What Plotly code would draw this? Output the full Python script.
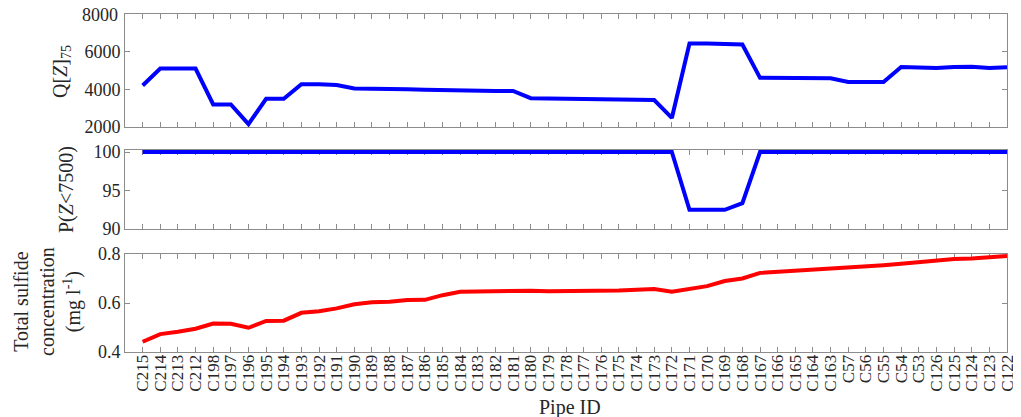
import plotly.graph_objects as go

pipes = ["C215", "C214", "C213", "C212", "C198", "C197", "C196", "C195", "C194", "C193",
         "C192", "C191", "C190", "C189", "C188", "C187", "C186", "C185", "C184", "C183",
         "C182", "C181", "C180", "C179", "C178", "C177", "C176", "C175", "C174", "C173",
         "C172", "C171", "C170", "C169", "C168", "C167", "C166", "C165", "C164", "C163",
         "C57", "C56", "C55", "C54", "C53", "C126", "C125", "C124", "C123", "C122"]

q75 = [4200, 5100, 5100, 5100, 3200, 3200, 2150, 3500, 3500, 4270,
       4270, 4230, 4050, 4050, 4000, 4000, 3980, 3950, 3920, 3920,
       3910, 3910, 3530, 3510, 3500, 3500, 3480, 3470, 3450, 3430,
       2480, 6430, 6430, 6400, 6380, 4610, 4610, 4600, 4600, 4590,
       4390, 4390, 4390, 5190, 5180, 5130, 5180, 5200, 5130, 5170]

p7500 = [100] * 31 + [92.5, 92.5, 92.5, 93.35] + [100] * 15

sulfide = [0.442, 0.473, 0.483, 0.495, 0.516, 0.515, 0.499, 0.527, 0.528, 0.560,
           0.566, 0.578, 0.595, 0.603, 0.605, 0.612, 0.613, 0.632, 0.646, 0.647,
           0.652, 0.652, 0.650, 0.648, 0.648, 0.647, 0.648, 0.651, 0.654, 0.657,
           0.646, 0.658, 0.669, 0.690, 0.700, 0.723, 0.727, 0.732, 0.737, 0.741,
           0.746, 0.750, 0.754, 0.760, 0.766, 0.775, 0.780, 0.782, 0.786, 0.792]

q_ticks = [2000, 4000, 6000, 8000]
p_ticks = [90, 95, 100]
s_ticks = [0.4, 0.6, 0.8]

idx = list(range(len(pipes)))

fig = go.Figure()
fig.add_trace(go.Scatter(x=idx, y=q75, mode="lines", line=dict(color="#0000FF", width=4),
                         xaxis="x", yaxis="y", showlegend=False))
fig.add_trace(go.Scatter(x=idx, y=p7500, mode="lines", line=dict(color="#0000FF", width=4),
                         xaxis="x2", yaxis="y2", showlegend=False))
fig.add_trace(go.Scatter(x=idx, y=sulfide, mode="lines", line=dict(color="#FF0000", width=4),
                         xaxis="x3", yaxis="y3", showlegend=False))

FONT = "Liberation Serif, Times New Roman, serif"
axcol = "#8c8c8c"
txtcol = "#262626"
common_x = dict(range=[-1, 49], showgrid=False, zeroline=False, showline=True, linecolor=axcol,
                linewidth=1, mirror="allticks", ticks="inside", ticklen=5, tickcolor=axcol,
                tickmode="array", tickvals=idx, ticktext=pipes, automargin=False,
                layer="below traces")
common_y = dict(showgrid=False, zeroline=False, showline=True, linecolor=axcol, linewidth=1,
                mirror="allticks", ticks="inside", ticklen=5, tickcolor=axcol, automargin=False,
                layer="below traces",
                tickfont=dict(family=FONT, size=18, color=txtcol))

# page body has an 8px margin, so the figure is drawn 8px smaller and the layout is shifted
fig.update_layout(
    width=1013, height=409,
    margin=dict(l=117, r=14, t=6, b=65, autoexpand=False),
    paper_bgcolor="white", plot_bgcolor="white",
    font=dict(family=FONT, size=19, color=txtcol),
    xaxis=dict(common_x, domain=[0, 1], anchor="y", showticklabels=False),
    xaxis2=dict(common_x, domain=[0, 1], anchor="y2", showticklabels=False),
    xaxis3=dict(common_x, domain=[0, 1], anchor="y3", showticklabels=True, tickangle=-90,
                ticklabelstandoff=-5,
                tickfont=dict(family=FONT, size=17, color=txtcol)),
    yaxis=dict(common_y, domain=[0.6657, 1], range=[q_ticks[0], q_ticks[-1]], tickvals=q_ticks[:-1]),
    yaxis2=dict(common_y, domain=[0.3639, 0.5976], range=[90, 100.26], tickvals=p_ticks),
    yaxis3=dict(common_y, domain=[0, 0.2899], range=[0.4, 0.8], tickvals=s_ticks,
                tickformat=".1f"),
)

ann = dict(xref="paper", yref="paper", showarrow=False, font=dict(family=FONT, size=20, color=txtcol))
# top tick label of the first panel (would be hidden at the figure edge)
fig.add_annotation(xref="paper", yref="y", x=-5 / 882, y=q_ticks[-1], text=str(q_ticks[-1]),
                   showarrow=False, xanchor="right", yanchor="middle", yshift=-1,
                   font=dict(family=FONT, size=18, color=txtcol))
fig.add_annotation(ann, text="Pipe ID", x=(570 - 125) / 882, y=-(407 - 352) / 338,
                   xanchor="center", yanchor="middle")
fig.add_annotation(ann, text="Q[<i>Z</i>]<sub>75</sub>", x=(62 - 125) / 882, y=1 - (72 - 14) / 338,
                   textangle=-90, xanchor="center", yanchor="middle")
fig.add_annotation(ann, text="P(<i>Z</i><7500)", x=(66 - 125) / 882, y=1 - (190 - 14) / 338,
                   textangle=-90, xanchor="center", yanchor="middle")
fig.add_annotation(ann, text="Total sulfide<br>concentration<br>(mg l<sup>-1</sup>)",
                   x=(47 - 125) / 882, y=1 - (302 - 14) / 338,
                   textangle=-90, xanchor="center", yanchor="middle")

fig.write_html("out.html")
